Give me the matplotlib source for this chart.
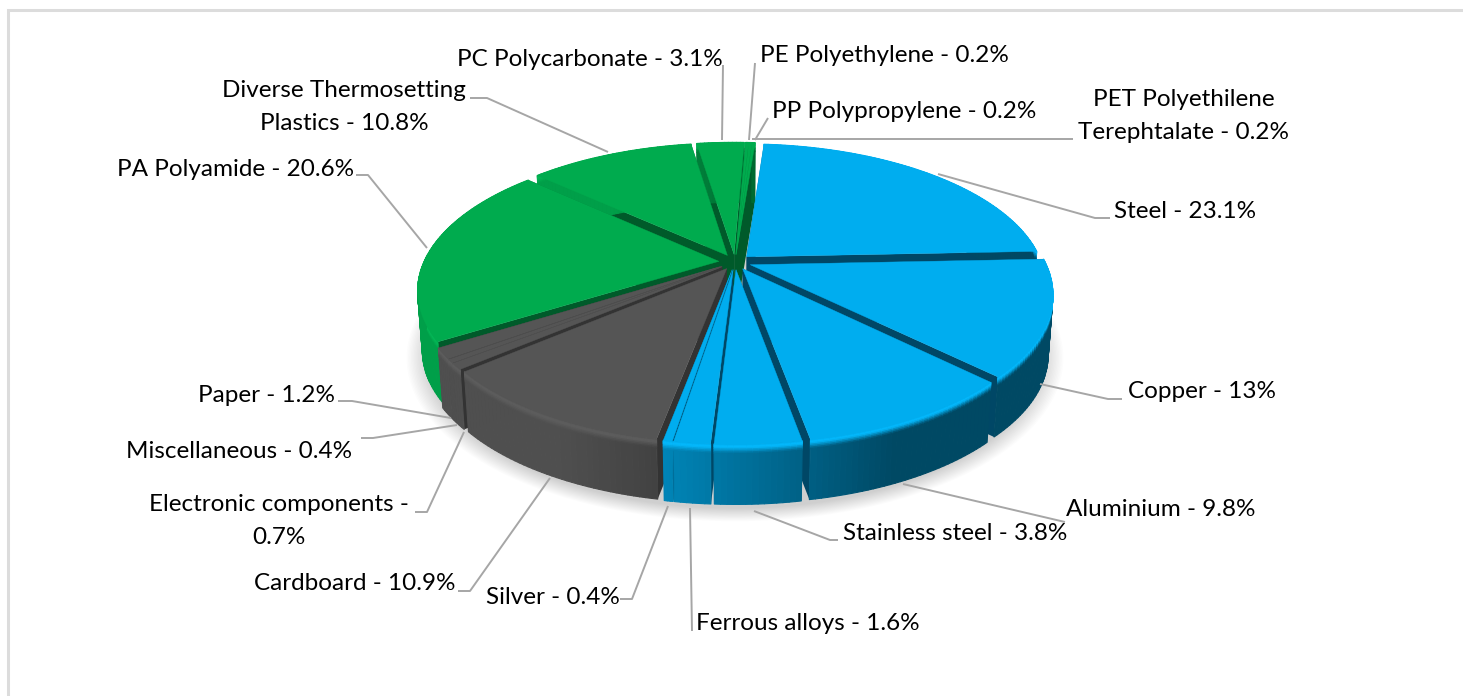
import numpy as np
import matplotlib
matplotlib.use("Agg")
from matplotlib import pyplot as plt
from matplotlib.collections import PolyCollection
from matplotlib.patches import Polygon

plt.rcParams['font.family'] = ['Lato', 'DejaVu Sans']

# slices, clockwise from the top of the pie
materials = ["Steel", "Copper", "Aluminium", "Stainless steel", "Ferrous alloys", "Silver",
             "Cardboard", "Electronic components", "Miscellaneous", "Paper",
             "PA Polyamide", "Diverse Thermosetting Plastics", "PC Polycarbonate",
             "PE Polyethylene", "PP Polypropylene", "PET Polyethilene Terephtalate"]
shares = [23.1, 13, 9.8, 3.8, 1.6, 0.4, 10.9, 0.7, 0.4, 1.2, 20.6, 10.8, 3.1, 0.2, 0.2, 0.2]
groups = ["metal"] * 6 + ["paper"] * 4 + ["plastic"] * 6

# label text and where it sits, in pixels of the picture
label_text = ["Steel - 23.1%", "Copper - 13%", "Aluminium - 9.8%", "Stainless steel - 3.8%",
              "Ferrous alloys - 1.6%", "Silver - 0.4%", "Cardboard - 10.9%",
              "Electronic components -\n0.7%", "Miscellaneous - 0.4%", "Paper - 1.2%",
              "PA Polyamide - 20.6%", "Diverse Thermosetting\nPlastics - 10.8%",
              "PC Polycarbonate - 3.1%", "PE Polyethylene - 0.2%", "PP Polypropylene - 0.2%",
              "PET Polyethilene\nTerephtalate - 0.2%"]
label_x = [1114, 1128, 1066, 843, 696, 486, 254, 149, 126, 198, 117, 222, 457, 760, 772, 1078]
label_y = [212, 392, 510, 533, 624, 597, 584, 521, 452, 395, 169, 107, 59, 56, 111, 116]

leaders = [
    [(938, 174), (1095, 218), (1110, 218)],
    [(1040, 384), (1108, 399), (1122, 399)],
    [(903, 484), (1065, 522)],
    [(754, 511), (830, 540), (838, 540)],
    [(690, 508), (692, 631)],
    [(668, 506), (632, 599), (620, 599)],
    [(550, 478), (470, 591), (458, 591)],
    [(464, 432), (427, 512), (415, 512)],
    [(457, 425), (373, 438), (361, 438)],
    [(451, 418), (352, 401), (338, 401)],
    [(427, 248), (368, 175), (356, 175)],
    [(608, 152), (487, 98), (470, 98)],
    [(722, 140), (723, 65)],
    [(749, 140), (755, 63)],
    [(755, 140), (768, 118)],
    [(752, 139), (1073, 139)],
]

top_colors = {"metal": "#00adef", "paper": "#555555", "plastic": "#00ab4e"}
cut_colors = {"metal": "#004766", "paper": "#333333", "plastic": "#005a2a"}

# projection of the pie
cx, cy = 735.0, 262.0
rx, ry = 295.0, 137.0
persp = 0.197
depth = 60.0
explode = 0.055
start = 4.5


def project(u, v, d=0.0):
    w = 1 + persp * v
    shrink = 1 - 0.015 * d / depth
    return cx + rx * u / w * shrink, cy - ry * v / w + d


def rgb(name):
    return np.array(matplotlib.colors.to_rgb(name))


def wall_shade(u):
    return np.clip(0.66 - 0.55 * u, 0.42, 0.93)


def ring_colors(base, u):
    # bevel at the top of the wall, then the wall itself
    wall = base * wall_shade(u)
    light = np.clip(base * 1.05 + 0.02, 0, 1)
    return [(0.0, base), (3.0, light), (9.0, wall), (depth, wall)]


fig = plt.figure(figsize=(14.63, 6.96), dpi=100)
ax = fig.add_axes([0, 0, 1, 1])
ax.set_xlim(0, 1463)
ax.set_ylim(696, 0)
ax.axis("off")

ax.plot([7.5, 7.5, 1463], [696, 9.5, 9.5], color="#dcdcdc", lw=2.2, solid_joinstyle="miter", zorder=1)

# soft shadow under the pie
t = np.radians(np.linspace(0, 360, 240))
for grow in np.linspace(1.07, 1.0, 16):
    sx = cx + (rx * 1.02 * grow) * np.sin(t) / (1 + persp * np.cos(t))
    sy = cy + 4 - ry * 1.07 * grow * np.cos(t) / (1 + persp * np.cos(t)) + depth
    ax.add_patch(Polygon(np.column_stack([sx, sy]), closed=True, fc="black", ec="none", alpha=0.013, zorder=2))

edges = start + np.cumsum([0] + shares) * 3.6
slices = []
for i in range(len(shares)):
    a0, a1 = edges[i], edges[i + 1]
    mid = np.radians((a0 + a1) / 2)
    slices.append((np.cos(mid), a0, a1, np.sin(mid) * explode, np.cos(mid) * explode, groups[i]))

# walls back to front, tops afterwards
order = sorted(slices, key=lambda s: -s[0])
for _, a0, a1, ox, oy, group in order:
    base = rgb(top_colors[group])
    ang = np.radians(np.linspace(a0, a1, max(4, int(a1 - a0) + 2)))
    us, vs = np.sin(ang) + ox, np.cos(ang) + oy

    # cut faces
    cut = []
    for u, v in [(us[0], vs[0]), (us[-1], vs[-1])]:
        cut.append([project(ox, oy), project(u, v), project(u, v, depth), project(ox, oy, depth)])
    ax.add_collection(PolyCollection(cut, facecolors=cut_colors[group], edgecolors="none", zorder=3))

    # outer wall
    polys, cols = [], []
    for j in range(len(ang) - 1):
        stops = ring_colors(base, (us[j] + us[j + 1]) / 2)
        for (d0, c0), (d1, c1) in zip(stops[:-1], stops[1:]):
            n = 4 if d1 - d0 < 20 else 1
            for s in range(n):
                da, db = d0 + (d1 - d0) * s / n, d0 + (d1 - d0) * (s + 1) / n
                polys.append([project(us[j], vs[j], da), project(us[j + 1], vs[j + 1], da),
                              project(us[j + 1], vs[j + 1], db), project(us[j], vs[j], db)])
                cols.append(c0 + (c1 - c0) * (s + 0.5) / n)
    ax.add_collection(PolyCollection(polys, facecolors=cols, edgecolors=cols, linewidths=0.8, zorder=3))

for _, a0, a1, ox, oy, group in order:
    ang = np.radians(np.linspace(a0, a1, max(4, int((a1 - a0) * 2))))
    pts = [project(ox, oy)] + [project(np.sin(a) + ox, np.cos(a) + oy) for a in ang]
    ax.add_patch(Polygon(pts, closed=True, fc=top_colors[group], ec=top_colors[group], lw=0.3, zorder=4))

for line in leaders:
    xs, ys = zip(*line)
    ax.plot(xs, ys, color="#a6a6a6", lw=1.4, zorder=5, solid_capstyle="butt")

for name, x, y in zip(label_text, label_x, label_y):
    ax.text(x, y, name, fontsize=17.5, color="black", ha="left", va="center", multialignment="center",
            linespacing=1.68, zorder=6)

fig.savefig("out.png", dpi=100)
